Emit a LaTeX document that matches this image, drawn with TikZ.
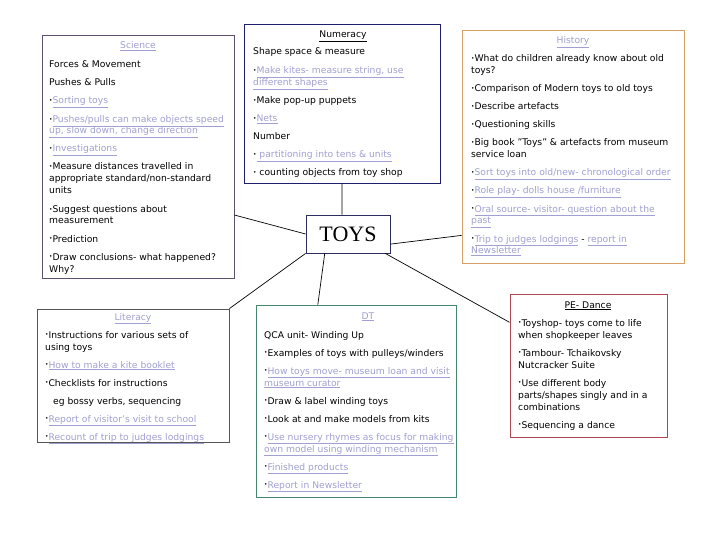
\documentclass[tikz,border=0pt]{standalone}
\usepackage{fontspec}
\setmainfont{DejaVu Sans}
\newfontfamily\toysfont{Liberation Serif}
\usetikzlibrary{calc}
\definecolor{lite}{RGB}{160,160,210}
\definecolor{scicol}{RGB}{95,80,110}
\definecolor{numcol}{RGB}{30,30,110}
\definecolor{hiscol}{RGB}{215,160,100}
\definecolor{litcol}{RGB}{85,85,85}
\definecolor{dtcol}{RGB}{70,135,110}
\definecolor{pecol}{RGB}{175,70,85}
\definecolor{toyscol}{RGB}{45,45,100}
\newcommand\bu{\raisebox{0.2ex}{\scalebox{0.62}{•}}}
\newcommand\lk[1]{\textcolor{lite}{\underline{#1}}}
\newcommand\dq{{\char34}}
\tikzset{
  box/.style={draw, line width=0.9pt, inner sep=0pt},
  txt/.style={inner sep=0pt, anchor=base west, font=\fontsize{9.2}{11}\selectfont},
  ttl/.style={inner sep=0pt, anchor=base, font=\fontsize{9.2}{11}\selectfont},
  conn/.style={draw=black, line width=0.7pt}
}
\begin{document}
\begin{tikzpicture}[x=1pt,y=-1pt]
\useasboundingbox[fill=white] (0,0) rectangle (720,540);
% boxes
\node[box, draw=scicol, minimum width=192pt, minimum height=243pt] (sci) at (138,156.5) {};
\node[box, draw=numcol, minimum width=196pt, minimum height=159pt] (num) at (342,103.5) {};
\node[box, draw=hiscol, minimum width=222pt, minimum height=233pt] (his) at (573,146.5) {};
\node[box, draw=litcol, minimum width=192pt, minimum height=133pt] (lit) at (133,375.5) {};
\node[box, draw=dtcol, minimum width=200pt, minimum height=192pt] (dt) at (356,401) {};
\node[box, draw=pecol, minimum width=157pt, minimum height=143pt] (pe) at (588.5,365.5) {};
\node[box, draw=toyscol, minimum width=84pt, minimum height=38pt, font=\toysfont\fontsize{22}{22}\selectfont] (toys) at (348,234) {TOYS};
% connectors
\draw[conn] ($(toys.north west)!0.43!(toys.north east)$) -- (num.south);
\draw[conn] (toys.west) -- ($(sci.north east)!0.74!(sci.south east)$);
\draw[conn] ($(toys.north east)!0.76!(toys.south east)$) -- ($(his.north west)!0.88!(his.south west)$);
\draw[conn] (toys.south west) -- (lit.north east);
\draw[conn] ($(toys.south west)!0.226!(toys.south east)$) -- ($(dt.north west)!0.31!(dt.north east)$);
\draw[conn] ($(toys.south west)!0.94!(toys.south east)$) -- ($(pe.north west)!0.2!(pe.south west)$);
% titles
\node[ttl] (scit) at (138,49) {\lk{Science}};
\node[ttl] (numt) at (343,38) {\underline{Numeracy}};
\node[ttl] (hist) at (573,44) {\lk{History}};
\node[ttl] (litt) at (133,320) {\lk{Literacy}};
\node[ttl] (dtt) at (368,319) {\lk{DT}};
\node[ttl] (pet) at (588,308) {\underline{PE- Dance}};
% Science
\foreach \y/\t [count=\i] in {
  65/{Forces \& Movement},
  83/{Pushes \& Pulls},
  101/{\bu\lk{Sorting toys}},
  120/{\bu\lk{Pushes/pulls can make objects speed}},
  131/{\lk{up, slow down, change direction}},
  149/{\bu\lk{Investigations}},
  167/{\bu Measure distances travelled in},
  179/{appropriate standard/non-standard},
  191/{units},
  210/{\bu Suggest questions about},
  221/{measurement},
  239/{\bu Prediction},
  257/{\bu Draw conclusions- what happened?},
  269/{Why?}}
  \node[txt] (sci\i) at (49,\y+3) {\t};
% Numeracy
\foreach \y/\t [count=\i] in {
  52/{Shape space \& measure},
  71/{\bu\lk{Make kites- measure string, use}},
  83/{\lk{different shapes}},
  101/{\bu Make pop-up puppets},
  119/{\bu\lk{Nets}},
  137/{Number},
  155/{\bu\lk{ partitioning into tens \& units}},
  173/{\bu\ counting objects from toy shop}}
  \node[txt] (num\i) at (253,\y+3) {\t};
% History
\foreach \y/\t [count=\i] in {
  59/{\bu What do children already know about old},
  71/{toys?},
  89/{\bu Comparison of Modern toys to old toys},
  107/{\bu Describe artefacts},
  125/{\bu Questioning skills},
  143/{\bu Big book \dq Toys\dq{} \& artefacts from museum},
  155/{service loan},
  173/{\bu\lk{Sort toys into old/new- chronological order}},
  191/{\bu\lk{Role play- dolls house /furniture}},
  209/{\bu\lk{Oral source- visitor- question about the}},
  221/{\lk{past}},
  239/{\bu\lk{Trip to judges lodgings} - \lk{report in}},
  251/{\lk{Newsletter}}}
  \node[txt] (his\i) at (471,\y+3) {\t};
% Literacy
\foreach \y/\t [count=\i] in {
  335/{\bu Instructions for various sets of},
  347/{using toys},
  365/{\bu\lk{How to make a kite booklet}},
  383/{\bu Checklists for instructions},
  401/{\hspace*{8pt}eg bossy verbs, sequencing},
  419/{\bu\lk{Report of visitor's visit to school}},
  437/{\bu\lk{Recount of trip to judges lodgings}}}
  \node[txt] (lit\i) at (45,\y+3) {\t};
% DT
\foreach \y/\t [count=\i] in {
  335/{QCA unit- Winding Up},
  353/{\bu Examples of toys with pulleys/winders},
  371/{\bu\lk{How toys move- museum loan and visit}},
  383/{\lk{museum curator}},
  401/{\bu Draw \& label winding toys},
  419/{\bu Look at and make models from kits},
  437/{\bu\lk{Use nursery rhymes as focus for making}},
  449/{\lk{own model using winding mechanism}},
  467/{\bu\lk{Finished products}},
  485/{\bu\lk{Report in Newsletter}}}
  \node[txt] (dt\i) at (264,\y+3) {\t};
% PE
\foreach \y/\t [count=\i] in {
  323/{\bu Toyshop- toys come to life},
  335/{when shopkeeper leaves},
  353/{\bu Tambour- Tchaikovsky},
  365/{Nutcracker Suite},
  383/{\bu Use different body},
  395/{parts/shapes singly and in a},
  407/{combinations},
  425/{\bu Sequencing a dance}}
  \node[txt] (pe\i) at (518,\y+3) {\t};
\end{tikzpicture}
\end{document}
